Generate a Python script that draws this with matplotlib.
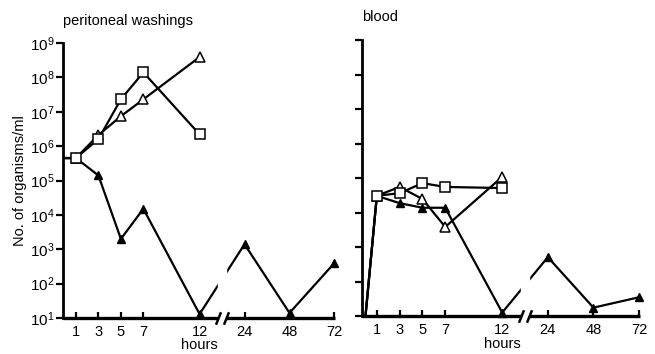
import numpy as np
import matplotlib
matplotlib.use("Agg")
import matplotlib.pyplot as plt

plt.rcParams["font.family"] = ["Liberation Sans", "DejaVu Sans"]
plt.rcParams["mathtext.fontset"] = "custom"
plt.rcParams["mathtext.rm"] = "Liberation Sans"
plt.rcParams["mathtext.it"] = "Liberation Sans"

# sampling times (hours); hour 0 is the inoculum, drawn without a marker
hours = [0, 1, 3, 5, 7, 12]
hours_long = [0, 1, 3, 5, 7, 12, 24, 48, 72]

# peritoneal washings, organisms/ml
wash_square = [4.5e5, 4.5e5, 1.6e6, 2.3e7, 1.4e8, 2.2e6]
wash_open_tri = [4.5e5, 4.5e5, 2.1e6, 7.4e6, 2.3e7, 3.9e8]
wash_filled_tri = [4.5e5, 4.5e5, 1.4e5, 2.0e3, 1.5e4, 13, 1.4e3, 14, 4.0e2]

# blood, organisms/ml
blood_square = [10, 3.1e4, 3.7e4, 7.2e4, 5.6e4, 5.2e4]
blood_open_tri = [10, 3.1e4, 5.6e4, 2.5e4, 3.9e3, 1.1e5]
blood_filled_tri = [10, 3.1e4, 1.9e4, 1.4e4, 1.4e4, 13, 5.2e2, 18, 36]

x_ticks = [1, 3, 5, 7, 12, 24, 48, 72]
y_ticks = [1e1, 1e2, 1e3, 1e4, 1e5, 1e6, 1e7, 1e8, 1e9]
y_labels = [f"$10^{{{k}}}$" for k in range(1, 10)]

GAP = (17, 19)  # hours hidden by the axis break


def fwd(h):
    # 0-12 h full width, 12-24 h compressed, beyond 24 h at 1/6 scale
    h = np.asarray(h, dtype=float)
    return np.where(h <= 12, h, np.where(h <= 24, 12 + (h - 12) / 3, 16 + (h - 24) / 6))


def inv(u):
    u = np.asarray(u, dtype=float)
    return np.where(u <= 12, u, np.where(u <= 16, 12 + (u - 12) * 3, 24 + (u - 16) * 6))


def setup_panel(ax, xlim, show_ylabels):
    ax.set_yscale("log")
    ax.set_xscale("function", functions=(fwd, inv))
    ax.set_ylim(1e1, 1e9)
    ax.set_xlim(*xlim)
    ax.set_xticks(x_ticks)
    ax.set_xticklabels([str(t) for t in x_ticks], fontsize=10.5)
    ax.set_yticks(y_ticks)
    ax.xaxis.set_minor_locator(matplotlib.ticker.NullLocator())
    ax.yaxis.set_minor_locator(matplotlib.ticker.NullLocator())
    if show_ylabels:
        ax.set_yticklabels(y_labels, fontsize=11)
    else:
        ax.set_yticklabels([])
    for s in ("top", "right", "bottom"):
        ax.spines[s].set_visible(False)
    ax.spines["left"].set_linewidth(2.0)
    ax.tick_params(axis="y", direction="out", length=5, width=1.6, pad=1)
    ax.tick_params(axis="x", direction="in", length=4, width=1.6, pad=5)

    # x axis drawn in two pieces around the break
    xt = ax.get_xaxis_transform()
    ax.plot([xlim[0], GAP[0]], [0, 0], color="k", lw=2.4, transform=xt,
            clip_on=False, solid_capstyle="butt", zorder=5)
    ax.plot([GAP[1], xlim[1]], [0, 0], color="k", lw=2.4, transform=xt,
            clip_on=False, solid_capstyle="butt", zorder=5)
    ax.plot(list(GAP), [0, 0], transform=xt, marker=[(-0.4, -1), (0.4, 1)],
            markersize=9, linestyle="none", color="k", mec="k", mew=1.8,
            clip_on=False, zorder=6)
    ax.axvspan(GAP[0], GAP[1], color="white", zorder=4)

    ax.text(12, -0.1, "hours", transform=xt, ha="center", va="center",
            fontsize=10.5)


def draw_series(ax, sq, otri, ftri):
    style = dict(color="k", lw=1.6, clip_on=False, markevery=slice(1, None))
    ax.plot(hours_long, ftri, marker="^", ms=6, mfc="k", mec="k", zorder=3, **style)
    ax.plot(hours, otri, marker="^", ms=7, mfc="white", mec="k", mew=1.1, zorder=3, **style)
    ax.plot(hours, sq, marker="s", ms=7, mfc="white", mec="k", mew=1.1, zorder=3, **style)


fig = plt.figure(figsize=(6.55, 3.54), dpi=100)

ax1 = fig.add_axes([0.0962, 0.1017, 0.415, 0.7768])
setup_panel(ax1, (-0.15, 72.2), True)
draw_series(ax1, wash_square, wash_open_tri, wash_filled_tri)
ax1.set_ylabel("No. of organisms/ml", fontsize=10.5, labelpad=2)
ax1.text(0.0, 1.08, "peritoneal washings", transform=ax1.transAxes,
         ha="left", va="center", fontsize=10.5)

ax2 = fig.add_axes([0.5527, 0.106, 0.4244, 0.781])
setup_panel(ax2, (-0.3, 72.5), False)
draw_series(ax2, blood_square, blood_open_tri, blood_filled_tri)
ax2.text(0.0, 1.085, "blood", transform=ax2.transAxes,
         ha="left", va="center", fontsize=10.5)

fig.savefig("out.png", dpi=100)
